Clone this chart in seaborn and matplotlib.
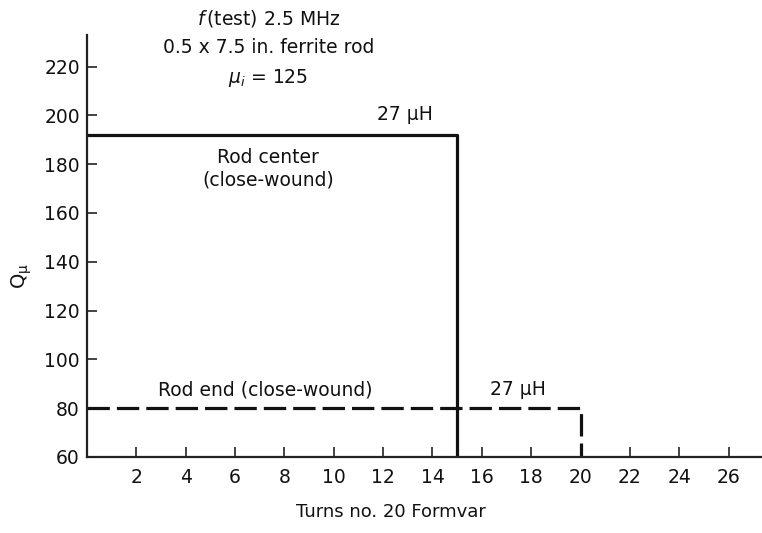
import matplotlib
matplotlib.use("Agg")
import matplotlib.pyplot as plt
import seaborn as sns
import pandas as pd

# Q versus number of turns (No. 20 Formvar) on a 0.5 x 7.5 in. ferrite rod
center_turns = [0, 15, 15]
center_q = [192, 192, 60]
end_turns = [0, 20, 20]
end_q = [80, 80, 60]

x_ticks = [2, 4, 6, 8, 10, 12, 14, 16, 18, 20, 22, 24, 26]
y_ticks = [60, 80, 100, 120, 140, 160, 180, 200, 220]

sns.set_theme(style="white")
plt.rcParams["font.family"] = ["DejaVu Sans"]
plt.rcParams["mathtext.fontset"] = "dejavusans"

fig = plt.figure(figsize=(7.62, 5.33), dpi=100)
ax = fig.add_axes([0.114, 0.1426, 0.886, 0.792])

center = pd.DataFrame({"turns": center_turns, "q": center_q})
end = pd.DataFrame({"turns": end_turns, "q": end_q})

sns.lineplot(data=center, x="turns", y="q", sort=False, estimator=None,
             color="#111111", linewidth=2.3, ax=ax)
sns.lineplot(data=end, x="turns", y="q", sort=False, estimator=None,
             color="#111111", linewidth=2.3, ax=ax)
ax.lines[-1].set_dashes([7, 2.2])

ax.set_xlim(0, 27.35)
ax.set_ylim(60, 233)
ax.set_xticks(x_ticks)
ax.set_yticks(y_ticks)
ax.tick_params(bottom=True, left=True, direction="in", length=7, width=1.2,
               colors="#222222", labelsize=13.5, labelcolor="#111111")
ax.tick_params(axis="y", pad=5)
ax.tick_params(axis="x", pad=8)
for side in ("top", "right"):
    ax.spines[side].set_visible(False)
for side in ("left", "bottom"):
    ax.spines[side].set_color("#222222")
    ax.spines[side].set_linewidth(1.6)

ax.set_xlabel("")
ax.set_ylabel("")
fig.text(0.513, 0.022, "Turns no. 20 Formvar", ha="center", va="bottom",
         fontsize=13, color="#111111")
fig.text(0.028, 0.482, r"$\mathregular{Q_\mu}$", ha="center", va="center",
         rotation=90, fontsize=14, color="#111111")

txt = dict(ha="center", va="center", fontsize=13.5, color="#111111")
fig.text(0.352, 0.965, r"$f\,$(test) 2.5 MHz", **txt)
fig.text(0.352, 0.91, "0.5 x 7.5 in. ferrite rod", **txt)
fig.text(0.352, 0.853, r"$\mu_i$ = 125", **txt)
fig.text(0.531, 0.785, "27 \u03bcH", **txt)
fig.text(0.352, 0.705, "Rod center", **txt)
fig.text(0.352, 0.662, "(close-wound)", **txt)
fig.text(0.348, 0.268, "Rod end (close-wound)", **txt)
fig.text(0.68, 0.27, "27 \u03bcH", **txt)

fig.savefig("out.png", dpi=100)
